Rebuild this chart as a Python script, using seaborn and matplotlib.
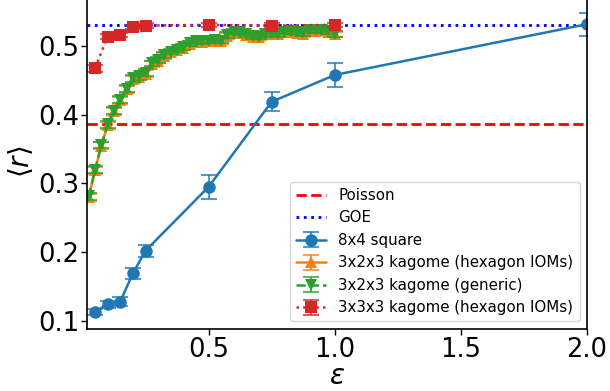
import numpy as np
import pandas as pd
import matplotlib
matplotlib.use("Agg")
import matplotlib.pyplot as plt
import seaborn as sns
from matplotlib.legend_handler import HandlerTuple

# ---------------- data ----------------
poisson_r = 0.3863
goe_r = 0.5307

sq_eps = [0.05, 0.1, 0.15, 0.2, 0.25, 0.5, 0.75, 1.0, 2.0]
sq_r = [0.113, 0.124, 0.128, 0.169, 0.202, 0.295, 0.419, 0.458, 0.532]
sq_err = [0.004, 0.005, 0.006, 0.008, 0.009, 0.018, 0.014, 0.018, 0.017]

k323_eps = [0.025, 0.05, 0.075, 0.1, 0.125, 0.15, 0.175, 0.2, 0.225, 0.25,
            0.275, 0.3, 0.325, 0.35, 0.375, 0.4, 0.425, 0.45, 0.475, 0.5,
            0.525, 0.55, 0.575, 0.6, 0.625, 0.65, 0.675, 0.7, 0.725, 0.75,
            0.775, 0.8, 0.825, 0.85, 0.875, 0.9, 0.925, 0.95, 0.975, 1.0]
k323_hex_r = [0.280, 0.319, 0.355, 0.385, 0.405, 0.421, 0.437, 0.452, 0.455, 0.460,
              0.474, 0.479, 0.486, 0.491, 0.494, 0.498, 0.503, 0.506, 0.506, 0.507,
              0.508, 0.507, 0.515, 0.520, 0.519, 0.516, 0.514, 0.513, 0.517, 0.518,
              0.517, 0.520, 0.521, 0.519, 0.518, 0.522, 0.522, 0.523, 0.521, 0.517]
k323_hex_err = [0.005, 0.005, 0.005, 0.005, 0.005, 0.005, 0.005, 0.005, 0.005, 0.005,
                0.004, 0.004, 0.004, 0.004, 0.004, 0.004, 0.004, 0.004, 0.004, 0.004,
                0.004, 0.004, 0.004, 0.004, 0.004, 0.004, 0.004, 0.004, 0.004, 0.004,
                0.004, 0.004, 0.004, 0.004, 0.004, 0.004, 0.004, 0.004, 0.004, 0.004]
k323_gen_r = [0.281, 0.320, 0.356, 0.386, 0.406, 0.422, 0.438, 0.453, 0.456, 0.461,
              0.475, 0.480, 0.487, 0.492, 0.495, 0.499, 0.504, 0.507, 0.507, 0.508,
              0.509, 0.508, 0.516, 0.521, 0.520, 0.517, 0.515, 0.514, 0.518, 0.519,
              0.518, 0.521, 0.522, 0.520, 0.519, 0.523, 0.523, 0.524, 0.522, 0.518]
k323_gen_err = [0.005, 0.005, 0.005, 0.005, 0.005, 0.005, 0.005, 0.005, 0.005, 0.005,
                0.004, 0.004, 0.004, 0.004, 0.004, 0.004, 0.004, 0.004, 0.004, 0.004,
                0.004, 0.004, 0.004, 0.004, 0.004, 0.004, 0.004, 0.004, 0.004, 0.004,
                0.004, 0.004, 0.004, 0.004, 0.004, 0.004, 0.004, 0.004, 0.004, 0.004]

k333_eps = [0.05, 0.1, 0.15, 0.2, 0.25, 0.5, 0.75, 1.0]
k333_r = [0.468, 0.514, 0.516, 0.528, 0.530, 0.531, 0.530, 0.531]
k333_err = [0.005, 0.003, 0.003, 0.003, 0.003, 0.003, 0.003, 0.003]

labels = ["Poisson", "GOE", "8x4 square", "3x2x3 kagome (hexagon IOMs)",
          "3x2x3 kagome (generic)", "3x3x3 kagome (hexagon IOMs)"]

# ---------------- figure ----------------
sns.set_style("ticks")
plt.rcParams["font.family"] = ["DejaVu Sans"]
plt.rcParams["mathtext.fontset"] = "dejavusans"
for k in ["text.color", "axes.labelcolor", "xtick.color", "ytick.color", "axes.edgecolor"]:
    plt.rcParams[k] = "black"

fig = plt.figure(figsize=(6.1, 3.91), dpi=100)
ax = fig.add_axes([0.1434, 0.1586, 0.8189, 0.8568])

h_pois = ax.axhline(poisson_r, color="red", ls="--", lw=2, label=labels[0])
h_goe = ax.axhline(goe_r, color="blue", ls=":", lw=2, label=labels[1])

series = [
    (sq_eps, sq_r, sq_err, "o", "-", "C0", labels[2]),
    (k323_eps, k323_hex_r, k323_hex_err, "^", "-", "C1", labels[3]),
    (k323_eps, k323_gen_r, k323_gen_err, "v", "--", "C2", labels[4]),
    (k333_eps, k333_r, k333_err, "s", ":", "C3", labels[5]),
]

handles = [h_pois, h_goe]
for xs, ys, es, mk, ls, col, lab in series:
    df = pd.DataFrame({"eps": xs, "r": ys})
    eb = ax.errorbar(xs, ys, yerr=es, fmt="none", ecolor=col, elinewidth=1.5,
                     capsize=6, capthick=1.5, alpha=0.75)
    sns.lineplot(data=df, x="eps", y="r", ax=ax, color=col, linestyle=ls,
                 linewidth=1.8, marker=mk, markersize=9, markeredgewidth=0,
                 legend=False, sort=False)
    line = ax.lines[-1]
    handles.append((eb, line))

ax.legend(handles, labels, loc="lower right", fontsize=10.8,
          handler_map={tuple: HandlerTuple(ndivide=1)}, frameon=True,
          fancybox=True, framealpha=0.8, edgecolor="0.8")

ax.set_xlim(0.02, 2.0)
ax.set_ylim(0.088, 0.576)
ax.set_xticks([0.5, 1.0, 1.5, 2.0])
ax.set_yticks([0.1, 0.2, 0.3, 0.4, 0.5])
ax.tick_params(labelsize=18.5, length=4, width=1, color="black", labelcolor="black", pad=2)
for s in ax.spines.values():
    s.set_color("black")
    s.set_linewidth(1.2)
ax.set_xlabel(r"$\epsilon$", fontsize=20, labelpad=-1)
ax.set_ylabel(r"$\langle r\rangle$", fontsize=20, labelpad=2)

fig.savefig("out.png", dpi=100)
